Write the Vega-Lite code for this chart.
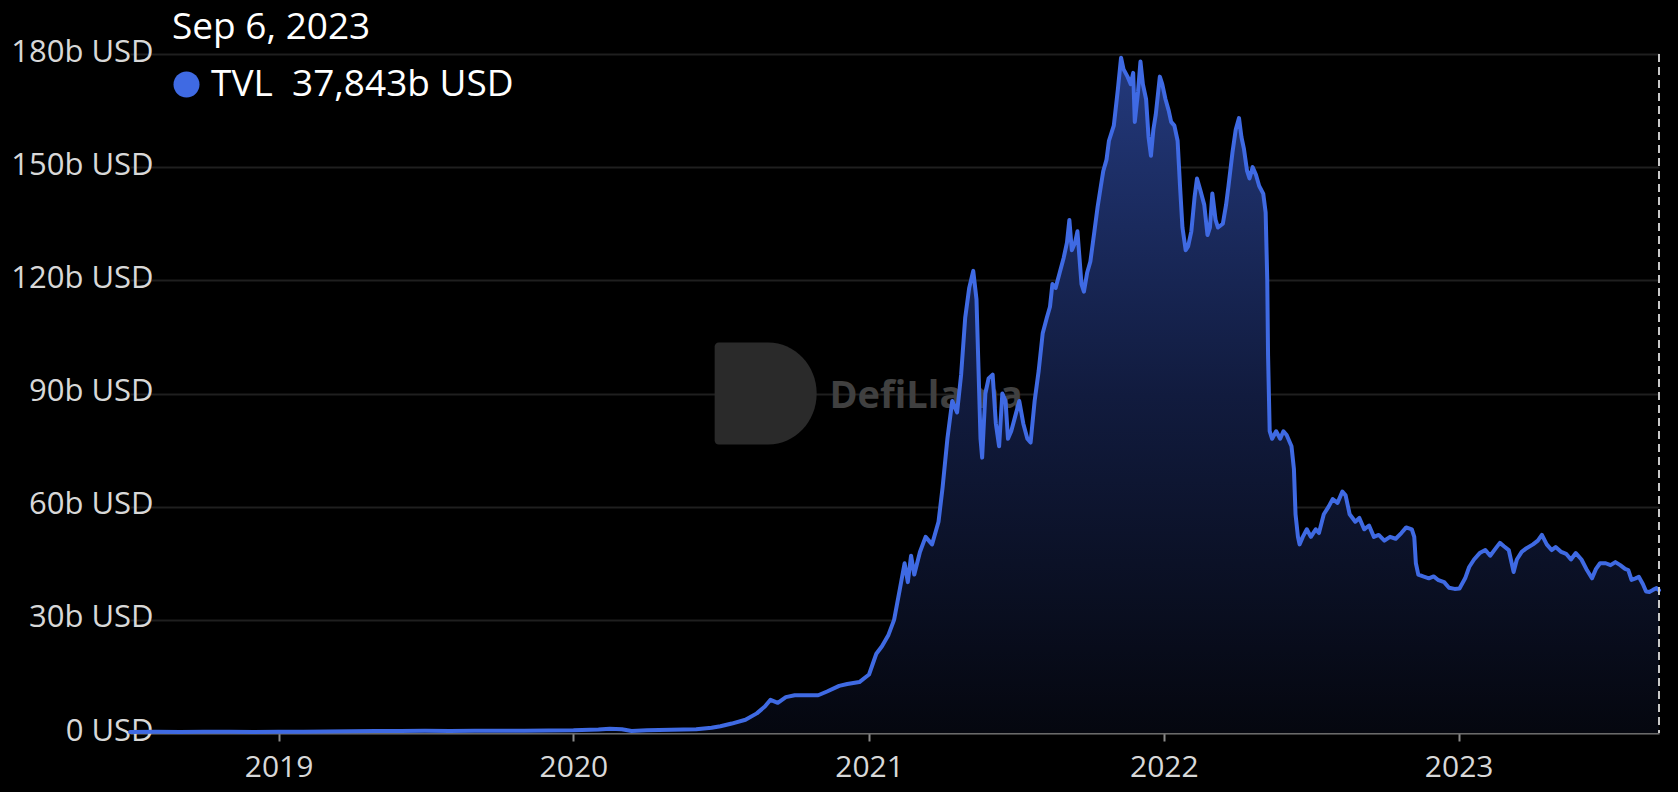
{
  "$schema": "https://vega.github.io/schema/vega-lite/v6.json",
  "width": 1529,
  "height": 679,
  "autosize": {"type": "none"},
  "padding": {"left": 130, "top": 54, "right": 19, "bottom": 59},
  "background": "#000000",
  "config": {
    "view": {"stroke": null},
    "font": "Open Sans"
  },
  "datasets": {
    "tvl": [
      {"d":"2018-07-01","v":0.28},{"d":"2018-08-01","v":0.3},{"d":"2018-09-01","v":0.28},{"d":"2018-10-01","v":0.3},{"d":"2018-11-01","v":0.3},{"d":"2018-12-01","v":0.28},
      {"d":"2019-01-01","v":0.3},{"d":"2019-02-01","v":0.35},{"d":"2019-03-01","v":0.4},{"d":"2019-04-01","v":0.45},{"d":"2019-05-01","v":0.5},{"d":"2019-06-01","v":0.55},
      {"d":"2019-07-01","v":0.6},{"d":"2019-08-01","v":0.55},{"d":"2019-09-01","v":0.6},{"d":"2019-10-01","v":0.6},{"d":"2019-11-01","v":0.6},{"d":"2019-12-01","v":0.65},
      {"d":"2020-01-01","v":0.7},{"d":"2020-02-01","v":0.9},{"d":"2020-02-15","v":1.1},{"d":"2020-03-01","v":1.0},{"d":"2020-03-13","v":0.55},{"d":"2020-04-01","v":0.7},
      {"d":"2020-05-01","v":0.85},{"d":"2020-06-01","v":1.0},{"d":"2020-06-20","v":1.4},{"d":"2020-07-01","v":1.8},{"d":"2020-07-15","v":2.5},{"d":"2020-08-01","v":3.5},
      {"d":"2020-08-15","v":5.2},{"d":"2020-08-25","v":7.0},{"d":"2020-09-01","v":8.8},{"d":"2020-09-10","v":8.0},{"d":"2020-09-20","v":9.5},{"d":"2020-10-01","v":10.0},
      {"d":"2020-10-15","v":10.0},{"d":"2020-10-30","v":10.0},{"d":"2020-11-10","v":11.0},{"d":"2020-11-25","v":12.5},{"d":"2020-12-05","v":13.0},{"d":"2020-12-20","v":13.5},
      {"d":"2021-01-01","v":15.5},{"d":"2021-01-10","v":21},{"d":"2021-01-17","v":23},{"d":"2021-01-25","v":26},{"d":"2021-02-01","v":30},{"d":"2021-02-08","v":38},
      {"d":"2021-02-14","v":45},{"d":"2021-02-18","v":40},{"d":"2021-02-22","v":47},{"d":"2021-02-26","v":42},{"d":"2021-03-05","v":48},{"d":"2021-03-12","v":52},
      {"d":"2021-03-20","v":50},{"d":"2021-03-28","v":56},{"d":"2021-04-02","v":65},{"d":"2021-04-08","v":78},{"d":"2021-04-14","v":88},{"d":"2021-04-20","v":85},
      {"d":"2021-04-25","v":95},{"d":"2021-04-30","v":110},{"d":"2021-05-05","v":118},{"d":"2021-05-10","v":122.5},{"d":"2021-05-14","v":115},{"d":"2021-05-19","v":78},
      {"d":"2021-05-21","v":73},{"d":"2021-05-25","v":90},{"d":"2021-05-29","v":94},{"d":"2021-06-03","v":95},{"d":"2021-06-07","v":82},{"d":"2021-06-11","v":76},
      {"d":"2021-06-15","v":90},{"d":"2021-06-19","v":88},{"d":"2021-06-22","v":78},{"d":"2021-06-26","v":80},{"d":"2021-07-01","v":84},{"d":"2021-07-06","v":88},
      {"d":"2021-07-11","v":82},{"d":"2021-07-16","v":78},{"d":"2021-07-20","v":77},{"d":"2021-07-25","v":88},{"d":"2021-07-30","v":96},{"d":"2021-08-04","v":106},
      {"d":"2021-08-09","v":110},{"d":"2021-08-13","v":113},{"d":"2021-08-16","v":119},{"d":"2021-08-20","v":118},{"d":"2021-08-25","v":122},{"d":"2021-08-30","v":126},
      {"d":"2021-09-03","v":130},{"d":"2021-09-06","v":136},{"d":"2021-09-09","v":128},{"d":"2021-09-13","v":130},{"d":"2021-09-16","v":133},{"d":"2021-09-21","v":119},
      {"d":"2021-09-24","v":117},{"d":"2021-09-28","v":122},{"d":"2021-10-02","v":125},{"d":"2021-10-07","v":133},{"d":"2021-10-11","v":139.5},{"d":"2021-10-15","v":145},
      {"d":"2021-10-18","v":149},{"d":"2021-10-22","v":152},{"d":"2021-10-25","v":157},{"d":"2021-10-31","v":161},{"d":"2021-11-05","v":170.5},{"d":"2021-11-09","v":179},
      {"d":"2021-11-12","v":176},{"d":"2021-11-17","v":174},{"d":"2021-11-21","v":172},{"d":"2021-11-24","v":175},{"d":"2021-11-26","v":162},{"d":"2021-11-30","v":170},
      {"d":"2021-12-03","v":178},{"d":"2021-12-06","v":172},{"d":"2021-12-10","v":168},{"d":"2021-12-13","v":158},{"d":"2021-12-16","v":153},{"d":"2021-12-19","v":160},
      {"d":"2021-12-22","v":164},{"d":"2021-12-27","v":174},{"d":"2021-12-30","v":172},{"d":"2022-01-03","v":168},{"d":"2022-01-07","v":165},{"d":"2022-01-10","v":162},
      {"d":"2022-01-14","v":161},{"d":"2022-01-18","v":157},{"d":"2022-01-21","v":145},{"d":"2022-01-24","v":134},{"d":"2022-01-28","v":128},{"d":"2022-01-31","v":129},
      {"d":"2022-02-04","v":133},{"d":"2022-02-08","v":142},{"d":"2022-02-11","v":147},{"d":"2022-02-15","v":144},{"d":"2022-02-20","v":140},{"d":"2022-02-24","v":132},
      {"d":"2022-02-27","v":134},{"d":"2022-03-02","v":143},{"d":"2022-03-06","v":136},{"d":"2022-03-09","v":134},{"d":"2022-03-15","v":135},{"d":"2022-03-19","v":140},
      {"d":"2022-03-22","v":145},{"d":"2022-03-27","v":154},{"d":"2022-03-31","v":160},{"d":"2022-04-04","v":163},{"d":"2022-04-07","v":158},{"d":"2022-04-10","v":155},
      {"d":"2022-04-14","v":149},{"d":"2022-04-17","v":147},{"d":"2022-04-21","v":150},{"d":"2022-04-25","v":148},{"d":"2022-04-29","v":145},{"d":"2022-05-04","v":143},
      {"d":"2022-05-07","v":138},{"d":"2022-05-09","v":120},{"d":"2022-05-10","v":100},{"d":"2022-05-12","v":80},{"d":"2022-05-15","v":78},{"d":"2022-05-20","v":80},
      {"d":"2022-05-25","v":78},{"d":"2022-05-29","v":80},{"d":"2022-06-02","v":79},{"d":"2022-06-08","v":76},{"d":"2022-06-11","v":70},{"d":"2022-06-13","v":58},
      {"d":"2022-06-16","v":52},{"d":"2022-06-18","v":50},{"d":"2022-06-22","v":52},{"d":"2022-06-27","v":54},{"d":"2022-07-02","v":52},{"d":"2022-07-08","v":54},
      {"d":"2022-07-12","v":53},{"d":"2022-07-18","v":58},{"d":"2022-07-24","v":60},{"d":"2022-07-29","v":62},{"d":"2022-08-04","v":61},{"d":"2022-08-10","v":64},
      {"d":"2022-08-14","v":63},{"d":"2022-08-19","v":58},{"d":"2022-08-26","v":56},{"d":"2022-08-31","v":57},{"d":"2022-09-06","v":54},{"d":"2022-09-12","v":55},
      {"d":"2022-09-18","v":52},{"d":"2022-09-24","v":52.5},{"d":"2022-10-01","v":51},{"d":"2022-10-08","v":52},{"d":"2022-10-15","v":51.5},{"d":"2022-10-22","v":53},
      {"d":"2022-10-28","v":54.5},{"d":"2022-11-04","v":54},{"d":"2022-11-07","v":52},{"d":"2022-11-09","v":45},{"d":"2022-11-12","v":42},{"d":"2022-11-18","v":41.5},
      {"d":"2022-11-25","v":41},{"d":"2022-12-01","v":41.5},{"d":"2022-12-07","v":40.5},{"d":"2022-12-14","v":40},{"d":"2022-12-20","v":38.5},{"d":"2022-12-27","v":38.2},
      {"d":"2023-01-02","v":38.3},{"d":"2023-01-09","v":41},{"d":"2023-01-14","v":44},{"d":"2023-01-20","v":46},{"d":"2023-01-27","v":47.7},{"d":"2023-02-03","v":48.5},
      {"d":"2023-02-09","v":47},{"d":"2023-02-16","v":49},{"d":"2023-02-21","v":50.4},{"d":"2023-02-26","v":49.5},{"d":"2023-03-04","v":48.5},{"d":"2023-03-10","v":42.7},
      {"d":"2023-03-14","v":46},{"d":"2023-03-20","v":48},{"d":"2023-03-26","v":49},{"d":"2023-04-03","v":50},{"d":"2023-04-09","v":51},{"d":"2023-04-14","v":52.5},
      {"d":"2023-04-20","v":50},{"d":"2023-04-26","v":48.5},{"d":"2023-05-01","v":49.3},{"d":"2023-05-08","v":48},{"d":"2023-05-14","v":47.5},{"d":"2023-05-20","v":46},
      {"d":"2023-05-26","v":47.7},{"d":"2023-06-02","v":46},{"d":"2023-06-08","v":43.5},{"d":"2023-06-15","v":41},{"d":"2023-06-20","v":43.5},{"d":"2023-06-25","v":45},
      {"d":"2023-07-02","v":45},{"d":"2023-07-08","v":44.5},{"d":"2023-07-14","v":45.3},{"d":"2023-07-20","v":44.5},{"d":"2023-07-26","v":43.5},{"d":"2023-07-30","v":43.2},
      {"d":"2023-08-03","v":40.6},{"d":"2023-08-08","v":41},{"d":"2023-08-12","v":41.4},{"d":"2023-08-17","v":39.5},{"d":"2023-08-21","v":37.5},{"d":"2023-08-25","v":37.4},
      {"d":"2023-08-30","v":38},{"d":"2023-09-03","v":38.4},{"d":"2023-09-06","v":37.84}
    ],
    "watermark": [
      {"d":"2020-11-13","v":89,"label":"DefiLlama"}
    ],
    "logo": [
      {"d":"2020-08-26","v":90}
    ],
    "cursor": [
      {"d":"2023-09-06"}
    ]
  },
  "layer": [
    {
      "data": {"name": "logo"},
      "mark": {"type": "point", "filled": true, "shape": "M-0.92,-1 H0.05 A0.95,1 0 0 1 0.05,1 H-0.92 A0.08,0.08 0 0 1 -1,0.92 V-0.92 A0.08,0.08 0 0 1 -0.92,-1 Z", "size": 10404, "color": "#2a2a2a", "opacity": 1},
      "encoding": {
        "x": {"field": "d", "type": "temporal"},
        "y": {"field": "v", "type": "quantitative"}
      }
    },
    {
      "data": {"name": "watermark"},
      "mark": {"type": "text", "align": "left", "baseline": "middle", "font": "Open Sans", "fontWeight": "bold", "fontSize": 38, "color": "#404040"},
      "encoding": {
        "x": {"field": "d", "type": "temporal"},
        "y": {"field": "v", "type": "quantitative"},
        "text": {"field": "label"}
      }
    },
    {
      "data": {"name": "tvl"},
      "mark": {
        "type": "area",
        "line": false,
        "fill": {
          "gradient": "linear",
          "x1": 1, "y1": 1, "x2": 1, "y2": 0,
          "stops": [
            {"offset": 0, "color": "#05070f"},
            {"offset": 0.5, "color": "#111b3e"},
            {"offset": 1, "color": "#23397c"}
          ]
        }
      },
      "encoding": {
        "x": {"field": "d", "type": "temporal"},
        "y": {"field": "v", "type": "quantitative"}
      }
    },
    {
      "data": {"name": "tvl"},
      "mark": {"type": "line", "strokeWidth": 4, "strokeJoin": "round", "strokeCap": "round"},
      "encoding": {
        "x": {
          "field": "d", "type": "temporal",
          "scale": {"type": "utc", "domain": [{"year": 2018, "month": 7, "date": 1, "utc": true}, {"year": 2023, "month": 9, "date": 6, "utc": true}]},
          "axis": {
            "title": null,
            "format": "%Y", "formatType": "utc",
            "tickCount": {"interval": "year", "step": 1},
            "grid": false,
            "domainColor": "#6a6a6a", "domainWidth": 2,
            "tickColor": "#8a8a8a", "tickWidth": 2, "tickSize": 8,
            "labelPadding": 11,
            "labelFont": "Open Sans", "labelFontSize": 30, "labelColor": "#d8d8d8",
            "labelFlush": false
          }
        },
        "y": {
          "field": "v", "type": "quantitative",
          "scale": {"domain": [0, 180], "nice": false},
          "axis": {
            "title": null,
            "values": [0, 30, 60, 90, 120, 150, 180],
            "labelExpr": "datum.value == 0 ? '0 USD' : datum.value + 'b USD'",
            "domain": false, "ticks": false,
            "grid": true, "gridColor": "#1f1f1f", "gridWidth": 2,
            "labelAlign": "right", "labelBaseline": "middle",
            "labelPadding": -23, "labelOffset": -2,
            "labelFont": "Open Sans", "labelFontSize": 31, "labelColor": "#d8d8d8",
            "labelFlush": false
          }
        },
        "color": {
          "datum": "TVL\u00a0 37,843b USD",
          "scale": {"range": ["#3f6ae3"]},
          "legend": {
            "title": "Sep 6, 2023",
            "orient": "none", "legendX": 42, "legendY": -44,
            "padding": 0,
            "titleFont": "Open Sans", "titleFontSize": 37, "titleFontWeight": "normal", "titleColor": "#ffffff", "titlePadding": 19, "titleLimit": 800,
            "labelFont": "Open Sans", "labelFontSize": 37, "labelColor": "#ffffff", "labelOffset": 6, "labelLimit": 800,
            "symbolType": "circle", "symbolSize": 676, "symbolStrokeWidth": 0, "symbolOffset": -4, "symbolFillColor": "#3f6ae3",
            "encode": {"symbols": {"update": {"fill": {"value": "#3f6ae3"}, "strokeWidth": {"value": 0}}}}
          }
        }
      }
    },
    {
      "data": {"name": "cursor"},
      "mark": {"type": "rule", "color": "#c8c8c8", "strokeWidth": 2, "strokeDash": [8, 5]},
      "encoding": {
        "x": {"field": "d", "type": "temporal"}
      }
    }
  ]
}
